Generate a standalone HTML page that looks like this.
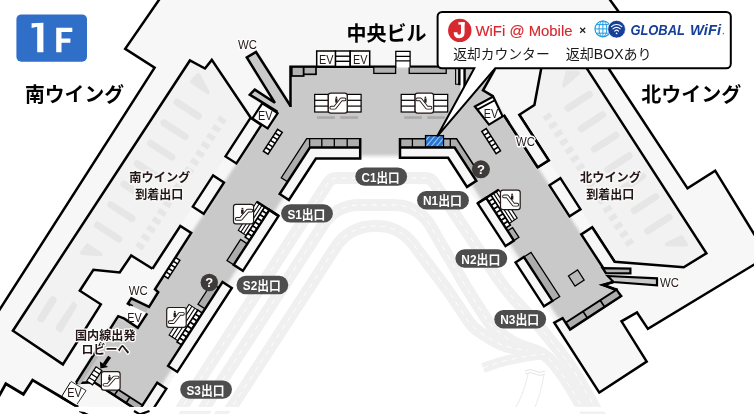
<!DOCTYPE html>
<html lang="ja"><head><meta charset="utf-8"><title>1F Floor Map</title>
<style>
html,body{margin:0;padding:0;background:#fff;}
body{width:754px;height:414px;overflow:hidden;font-family:"Liberation Sans",sans-serif;}
svg{display:block;}
svg text{opacity:0.999;}
.lbl{font-family:"Liberation Sans","Noto Sans CJK JP",sans-serif;}
</style></head><body>
<svg width="754" height="414" viewBox="0 0 754 414">
<rect width="754" height="414" fill="#fff"/>
<path d="M167.4,430 L328.1,182.6 A10,10 0 0 1 336.5,178 L425.4,178 A10,10 0 0 1 433.7,182.4 L496.7,276.7 A200,200 0 0 0 516.5,301.7 L533.7,320.3 A200,200 0 0 1 542.7,330.6 L561.1,353.3 A200,200 0 0 1 578.9,379.3 L587.3,393.9 A200,200 0 0 1 589.6,398.1 L607,430" fill="none" stroke="#f0f0f0" stroke-width="12"/>
<path d="M167.4,430 L328.1,182.6 A10,10 0 0 1 336.5,178 L425.4,178 A10,10 0 0 1 433.7,182.4 L496.7,276.7 A200,200 0 0 0 516.5,301.7 L533.7,320.3 A200,200 0 0 1 542.7,330.6 L561.1,353.3 A200,200 0 0 1 578.9,379.3 L587.3,393.9 A200,200 0 0 1 589.6,398.1 L607,430" fill="none" stroke="#fff" stroke-width="1" stroke-dasharray="5 5"/>
<path d="M190,430 L323.7,224.1 A42,42 0 0 1 358.9,205 L394.3,205 A42,42 0 0 1 430.6,225.9 L464.4,284.1 A300,300 0 0 0 471.5,295.7 L486.8,319.6 A40,40 0 0 0 495.9,329.5 L505.1,336.7 A60,60 0 0 0 522.9,346.3 L534.9,350.3 A40,40 0 0 1 553.3,363.2 L554.7,364.9 A200,200 0 0 1 570.5,387.6 L574.6,394.6 A200,200 0 0 1 576.3,397.5 L595,430" fill="none" stroke="#f0f0f0" stroke-width="12"/>
<path d="M190,430 L323.7,224.1 A42,42 0 0 1 358.9,205 L394.3,205 A42,42 0 0 1 430.6,225.9 L464.4,284.1 A300,300 0 0 0 471.5,295.7 L486.8,319.6 A40,40 0 0 0 495.9,329.5 L505.1,336.7 A60,60 0 0 0 522.9,346.3 L534.9,350.3 A40,40 0 0 1 553.3,363.2 L554.7,364.9 A200,200 0 0 1 570.5,387.6 L574.6,394.6 A200,200 0 0 1 576.3,397.5 L595,430" fill="none" stroke="#fff" stroke-width="1" stroke-dasharray="5 5"/>
<path d="M216.9,430 L336,246.5 A45,45 0 0 1 373.8,226 L377.1,226 A45,45 0 0 1 413,244 L442.6,283.3 A300,300 0 0 1 452.3,297 L468.1,320.7 A40,40 0 0 0 480,332.3 L491.3,339.5 A60,60 0 0 0 511.3,347.6 L540,353.5" fill="none" stroke="#f0f0f0" stroke-width="12"/>
<path d="M216.9,430 L336,246.5 A45,45 0 0 1 373.8,226 L377.1,226 A45,45 0 0 1 413,244 L442.6,283.3 A300,300 0 0 1 452.3,297 L468.1,320.7 A40,40 0 0 0 480,332.3 L491.3,339.5 A60,60 0 0 0 511.3,347.6 L540,353.5" fill="none" stroke="#fff" stroke-width="1" stroke-dasharray="5 5"/>
<path d="M483,368 Q512,357 545,354" fill="none" stroke="#f0f0f0" stroke-width="10"/>
<path d="M483,368 Q512,357 545,354" fill="none" stroke="#fff" stroke-width="1" stroke-dasharray="5 5"/>
<path d="M528,374 Q524,395 512,414 M544,374 Q541,395 532,414" fill="none" stroke="#ededed" stroke-width="1.2"/>
<path d="M525,371 q5,-3 10,0 t10,0 M525,374 q5,-3 10,0 t10,0" fill="none" stroke="#e4e4e4" stroke-width="1"/>
<polygon points="159,0 609.4,0 650,55 608.3,68 687.5,188.4 715.2,170.7 754,234 754,264.7 647.9,328.9 637,312.5 621.5,321.3 646.7,361.6 599.3,392.6 554.9,322.2 448.3,158 448,158 316,158.5 311.3,165.6 151.7,411.3 76,406 63.5,398.5 32.6,380.1 23.4,394.3 5.8,383.8 0,394.5 0,309 154.6,67.7 125.2,48.8" fill="#f7f7f7" />
<polygon points="189.9,60.5 205,68.5 211.8,59.9 250.5,117.8 152.5,268.7 131.2,255.5 119.7,272.5 93.4,269.7 79.8,290.7 100.8,304.3 62.9,364.4 13.2,330.9" fill="#f2f2f2" />
<polygon points="541.3,68 534.4,105 519.3,114.8 548.7,160.3 614.6,261.7 683.7,267.2 706.4,253.3 583.4,63.1" fill="#f2f2f2" />
<line x1="198.5" y1="116.2" x2="177.1" y2="102.3" stroke="#e6e6e6" stroke-width="7" stroke-linecap="round"/>
<line x1="185.2" y1="136.6" x2="163.8" y2="122.8" stroke="#e6e6e6" stroke-width="7" stroke-linecap="round"/>
<line x1="171.9" y1="157.1" x2="150.5" y2="143.2" stroke="#e6e6e6" stroke-width="7" stroke-linecap="round"/>
<line x1="158.6" y1="177.6" x2="137.2" y2="163.7" stroke="#e6e6e6" stroke-width="7" stroke-linecap="round"/>
<line x1="145.3" y1="198" x2="123.9" y2="184.1" stroke="#e6e6e6" stroke-width="7" stroke-linecap="round"/>
<line x1="132" y1="218.5" x2="110.7" y2="204.6" stroke="#e6e6e6" stroke-width="7" stroke-linecap="round"/>
<line x1="118.8" y1="239" x2="97.4" y2="225.1" stroke="#e6e6e6" stroke-width="7" stroke-linecap="round"/>
<polygon points="226.8,120.3 219.7,115.6 216.9,120 224,124.6" fill="#e6e6e6" />
<polygon points="221.4,128.7 214.3,124 211.4,128.4 218.5,133" fill="#e6e6e6" />
<polygon points="215.9,137 208.8,132.4 206,136.8 213.1,141.4" fill="#e6e6e6" />
<polygon points="210.5,145.4 203.4,140.8 200.5,145.2 207.7,149.8" fill="#e6e6e6" />
<polygon points="205,153.8 197.9,149.2 195.1,153.6 202.2,158.2" fill="#e6e6e6" />
<polygon points="199.6,162.2 192.5,157.6 189.6,161.9 196.8,166.6" fill="#e6e6e6" />
<polygon points="194.1,170.6 187,166 184.2,170.3 191.3,175" fill="#e6e6e6" />
<polygon points="188.7,179 181.6,174.4 178.7,178.7 185.9,183.3" fill="#e6e6e6" />
<polygon points="183.3,187.4 176.1,182.7 173.3,187.1 180.4,191.7" fill="#e6e6e6" />
<polygon points="177.8,195.8 170.7,191.1 167.8,195.5 175,200.1" fill="#e6e6e6" />
<polygon points="172.4,204.1 165.2,199.5 162.4,203.9 169.5,208.5" fill="#e6e6e6" />
<polygon points="166.9,212.5 159.8,207.9 157,212.3 164.1,216.9" fill="#e6e6e6" />
<polygon points="161.5,220.9 154.3,216.3 151.5,220.6 158.6,225.3" fill="#e6e6e6" />
<polygon points="156,229.3 148.9,224.7 146.1,229 153.2,233.7" fill="#e6e6e6" />
<polygon points="150.6,237.7 143.5,233.1 140.6,237.4 147.7,242.1" fill="#e6e6e6" />
<polygon points="145.1,246.1 138,241.4 135.2,245.8 142.3,250.4" fill="#e6e6e6" />
<line x1="568" y1="108.2" x2="589.4" y2="94.3" stroke="#e6e6e6" stroke-width="7" stroke-linecap="round"/>
<line x1="581.3" y1="128.7" x2="602.6" y2="114.8" stroke="#e6e6e6" stroke-width="7" stroke-linecap="round"/>
<line x1="594.5" y1="149.1" x2="615.9" y2="135.2" stroke="#e6e6e6" stroke-width="7" stroke-linecap="round"/>
<line x1="607.8" y1="169.6" x2="629.2" y2="155.7" stroke="#e6e6e6" stroke-width="7" stroke-linecap="round"/>
<line x1="621.1" y1="190" x2="642.5" y2="176.2" stroke="#e6e6e6" stroke-width="7" stroke-linecap="round"/>
<line x1="634.4" y1="210.5" x2="655.8" y2="196.6" stroke="#e6e6e6" stroke-width="7" stroke-linecap="round"/>
<line x1="647.7" y1="231" x2="669.1" y2="217.1" stroke="#e6e6e6" stroke-width="7" stroke-linecap="round"/>
<polygon points="542.6,116.9 549.7,112.3 552.6,116.6 545.5,121.3" fill="#e6e6e6" />
<polygon points="548.1,125.3 555.2,120.7 558,125 550.9,129.7" fill="#e6e6e6" />
<polygon points="553.5,133.7 560.6,129 563.5,133.4 556.3,138" fill="#e6e6e6" />
<polygon points="559,142.1 566.1,137.4 568.9,141.8 561.8,146.4" fill="#e6e6e6" />
<polygon points="564.4,150.5 571.5,145.8 574.4,150.2 567.2,154.8" fill="#e6e6e6" />
<polygon points="569.9,158.8 577,154.2 579.8,158.6 572.7,163.2" fill="#e6e6e6" />
<polygon points="575.3,167.2 582.4,162.6 585.3,167 578.1,171.6" fill="#e6e6e6" />
<polygon points="580.7,175.6 587.9,171 590.7,175.3 583.6,180" fill="#e6e6e6" />
<polygon points="586.2,184 593.3,179.4 596.2,183.7 589,188.4" fill="#e6e6e6" />
<polygon points="591.6,192.4 598.8,187.8 601.6,192.1 594.5,196.7" fill="#e6e6e6" />
<polygon points="597.1,200.8 604.2,196.1 607,200.5 599.9,205.1" fill="#e6e6e6" />
<polygon points="602.5,209.2 609.7,204.5 612.5,208.9 605.4,213.5" fill="#e6e6e6" />
<polygon points="608,217.5 615.1,212.9 617.9,217.3 610.8,221.9" fill="#e6e6e6" />
<polygon points="613.4,225.9 620.6,221.3 623.4,225.7 616.3,230.3" fill="#e6e6e6" />
<polygon points="618.9,234.3 626,229.7 628.8,234 621.7,238.7" fill="#e6e6e6" />
<polygon points="624.3,242.7 631.4,238.1 634.3,242.4 627.1,247.1" fill="#e6e6e6" />
<polygon points="192,81.6 198.3,75 207.8,92.4" fill="#e6e6e6" stroke="#e6e6e6" stroke-width="4" stroke-linejoin="round"/>
<polygon points="564,85.5 567.5,72.5 578,73" fill="#e6e6e6" stroke="#e6e6e6" stroke-width="4" stroke-linejoin="round"/>
<polygon points="82,253 87.5,245.3 100.5,254.3" fill="#e6e6e6" stroke="#e6e6e6" stroke-width="4" stroke-linejoin="round"/>
<polygon points="667,244.3 686,244.6 681.5,237.2" fill="#e6e6e6" stroke="#e6e6e6" stroke-width="4" stroke-linejoin="round"/>
<line x1="41.3" y1="318.6" x2="52.8" y2="300" stroke="#e6e6e6" stroke-width="7.6" stroke-linecap="round"/>
<polygon points="57,328 60.5,331 75.5,305.5 73.5,303.5" fill="#e6e6e6" stroke="#e6e6e6" stroke-width="3.5" stroke-linejoin="round"/>
<defs><filter id="bl" x="-5%" y="-5%" width="110%" height="110%"><feGaussianBlur stdDeviation="1.5"/></filter></defs>
<polygon points="290.5,66.7 466.3,66.7 466.3,68 495.5,68 483,90.4 492.8,95.9 475.4,105.7 493.9,99.8 603.2,268 606,273 607.6,276 613.5,281.8 602.6,284.8 617.7,289.8 621.1,295.9 570,329.4 562.6,318.1 558.1,318 471.5,184.6 476.6,181.4 454.2,147 452,147.5 400,147.5 400,155.5 360.2,155.5 360.2,147.5 309,147.5 310.8,146.2 279.7,194 283.9,196.7 146.7,408 101.8,387.2 94.2,382.3 76.2,382.5 116.9,316.1 125.4,320.4 132.1,306.3 127.9,303.5 131.3,298.4 149.1,306.8 157.6,291.7 155,289.2 261.3,125.1 267.7,129.3 276.9,112.6 277.5,111.9 249.8,94.7 254.8,89.6 274.9,102.8 246.8,57.5 256,52 290.5,106" fill="#c9c9c9" filter="url(#bl)"/>
<polygon points="246.8,57.5 256,52 290.5,106 286,112 274.9,102.8" fill="#c9c9c9" />
<polygon points="249.8,94.7 254.8,89.6 276,103.5 277.5,111.9" fill="#c9c9c9" />
<polyline points="159.6,-1 125.2,48.8 154.6,67.7 -1,310.6" fill="none" stroke="#000" stroke-width="2.5" stroke-linejoin="miter"/>
<polyline points="609.4,-1 650,55" fill="none" stroke="#000" stroke-width="2.5" stroke-linejoin="miter"/>
<polyline points="608.3,68 687.5,188.4 715.2,170.7 755,235.5" fill="none" stroke="#000" stroke-width="2.5" stroke-linejoin="miter"/>
<polyline points="755,264 647.9,328.9 637,312.5 621.5,321.3 646.7,361.6 599.3,392.6 554.3,322.6 562.6,318.1 570.1,329.6 621.1,295.9 616.1,290 603.6,285 613.5,281.8" fill="none" stroke="#000" stroke-width="2.5" stroke-linejoin="miter"/>
<polyline points="152.5,268.7 131.2,255.5 119.7,272.5 93.4,269.7 79.8,290.7 100.8,304.3 62.9,364.4 12.9,330.7 189.9,60.5 205,68.5 211.8,59.9 250.9,118" fill="none" stroke="#000" stroke-width="2.5" stroke-linejoin="miter"/>
<polyline points="-1,396.2 5.8,383.8 23.4,394.3 32.6,380.1 63.5,398.5 78,407" fill="none" stroke="#000" stroke-width="2.8" stroke-linejoin="miter"/>
<polyline points="541.3,68 534.4,105 519.3,114.8 548.7,160.3 537.7,167.2" fill="none" stroke="#000" stroke-width="2.5" stroke-linejoin="miter"/>
<polyline points="592.5,227.7 614.6,261.7 683.7,267.2 706.4,253.3 583.4,63.1" fill="none" stroke="#000" stroke-width="2.5" stroke-linejoin="miter"/>
<polyline points="503.7,114.9 537.7,167.2" fill="none" stroke="#000" stroke-width="2.5" stroke-linejoin="miter"/>
<polygon points="261.4,124.9 250.5,117.8 225.5,156.4 236.4,163.4" fill="#f7f7f7" stroke="#000" stroke-width="2.4" />
<polygon points="224,182.5 213.1,175.4 192.8,206.7 203.7,213.8" fill="#f7f7f7" stroke="#000" stroke-width="2.4" />
<polygon points="191.2,233 180.3,226 152.5,268.7 163.4,275.8" fill="#f7f7f7" />
<polygon points="127.9,303.5 131.3,298.4 149.1,306.8 145.9,312.6" fill="#b8b8b8" />
<polyline points="152.5,268.7 180.3,226 191.2,233 155,289.2 158.2,292.2 149.1,306.8 131.3,298.4 127.9,303.5 132.6,306.4" fill="none" stroke="#000" stroke-width="2.5" stroke-linejoin="miter"/>
<polygon points="549.5,185.3 560.4,178.2 580.5,209.3 569.6,216.3" fill="#f7f7f7" stroke="#000" stroke-width="2.4" />
<polygon points="581.3,234.4 592.2,227.3 614.6,261.7 603.2,268" fill="#f7f7f7" />
<polyline points="614.6,261.7 592.2,227.3 581.3,234.4 603.2,268 606,273" fill="none" stroke="#000" stroke-width="2.5" stroke-linejoin="miter"/>
<polygon points="509.2,123.2 519.3,114.9 548.7,160.3 537.7,167.2" fill="#f7f7f7" />
<polyline points="519.3,114.8 548.7,160.3 537.7,167.2 503.7,114.9" fill="none" stroke="#000" stroke-width="2.5" stroke-linejoin="miter"/>
<polygon points="602.6,268.2 630.4,268.6 630.4,273.4 606,273.2" fill="#b3b3b3" stroke="#000" stroke-width="2.2" />
<polygon points="607.6,276 657,278.3 657,285.3 613.5,282" fill="#c9c9c9" stroke="#000" stroke-width="2.2" />
<polyline points="613.5,282 602.6,284.8 617.7,289.8" fill="none" stroke="#000" stroke-width="2.4" stroke-linejoin="miter"/>
<polyline points="290.5,106 256,52 246.8,57.5 274.9,102.8 254.8,89.6 249.8,94.7 277.5,111.9" fill="none" stroke="#000" stroke-width="2.5" stroke-linejoin="miter"/>
<polyline points="290.5,107 290.5,66.7 396.6,66.7" fill="none" stroke="#000" stroke-width="2.5" stroke-linejoin="miter"/>
<polyline points="409.6,66.7 466,66.7" fill="none" stroke="#000" stroke-width="2.5" stroke-linejoin="miter"/>
<polygon points="460.5,68 463.4,68 463.4,89 460.5,94.5" fill="#fff" />
<polyline points="464.6,66 464.6,88.5" fill="none" stroke="#000" stroke-width="2.4" stroke-linejoin="miter"/>
<polyline points="459.3,66 459.3,85.2" fill="none" stroke="#000" stroke-width="2.4" stroke-linejoin="miter"/>
<polyline points="455.6,67 455.6,84.3 459.3,84.3" fill="none" stroke="#000" stroke-width="1.1" stroke-linejoin="miter"/>
<polyline points="495,69 483,90.4 493.2,96.3" fill="none" stroke="#000" stroke-width="2.5" stroke-linejoin="miter"/>
<rect x="373.8" y="67" width="21.8" height="6.4" fill="#b2b2b2" stroke="#000" stroke-width="1.3"/>
<rect x="409.2" y="67" width="37" height="6.4" fill="#b2b2b2" stroke="#000" stroke-width="1.3"/>
<rect x="291.8" y="67" width="11.9" height="9" fill="#b2b2b2" stroke="#000" stroke-width="1.7"/>
<rect x="303.7" y="67" width="12.3" height="7.3" fill="#b2b2b2" stroke="#000" stroke-width="1.7"/>
<rect x="335.4" y="51" width="14.8" height="15.5" fill="#fff" stroke="#000" stroke-width="1.4" rx="0"/>
<line x1="335.4" y1="56.2" x2="350.2" y2="56.2" stroke="#000" stroke-width="1.4"/>
<line x1="335.4" y1="61.3" x2="350.2" y2="61.3" stroke="#000" stroke-width="1.4"/>
<rect x="316.7" y="51" width="18.7" height="15.3" fill="#fff" stroke="#000" stroke-width="1.5" rx="0"/>
<rect x="350.2" y="51" width="19.5" height="15.3" fill="#fff" stroke="#000" stroke-width="1.5" rx="0"/>
<rect x="396" y="51.4" width="14.2" height="16" fill="#fff"/>
<path d="M395.8,67.5 V51.3 H410.1 V67.5 M395.8,56.3 H410.1 M395.8,60.8 H410.1" fill="none" stroke="#000" stroke-width="1.3"/>
<polygon points="360.2,138.7 360.2,147.5 309.9,147.5 287.6,181.8 281.3,177.7 306.7,138.7" fill="#adadad" />
<polygon points="360.2,147.5 360.2,158.5 315.9,158.5 288.9,200 279.7,194 309.9,147.5" fill="#f7f7f7" />
<polyline points="360.2,138.7 306.7,138.7 281.3,177.7 287.6,181.8" fill="none" stroke="#000" stroke-width="1.3" stroke-linejoin="miter"/>
<line x1="309.6" y1="138.7" x2="309.6" y2="147.5" stroke="#000" stroke-width="1.3"/>
<line x1="321.8" y1="138.7" x2="321.8" y2="147.5" stroke="#000" stroke-width="1.3"/>
<line x1="334.3" y1="138.7" x2="334.3" y2="147.5" stroke="#000" stroke-width="1.3"/>
<line x1="347.2" y1="138.7" x2="347.2" y2="147.5" stroke="#000" stroke-width="1.3"/>
<polyline points="360.2,138 360.2,158.5 315.9,158.5 288.9,200 279.7,194 309.9,147.5 360.2,147.5" fill="none" stroke="#000" stroke-width="2.5" stroke-linejoin="miter"/>
<polygon points="400,138.7 400,147.5 454.6,147.5 475.5,179.7 480.9,176.2 456.6,138.7" fill="#adadad" />
<polygon points="400,147.5 400,157.7 448.1,157.7 467,186.9 476.3,180.9 454.6,147.5" fill="#f7f7f7" />
<polyline points="400,138.7 456.6,138.7 480.9,176.2" fill="none" stroke="#000" stroke-width="1.6" stroke-linejoin="miter"/>
<line x1="412.4" y1="138.7" x2="412.4" y2="147.5" stroke="#000" stroke-width="1.3"/>
<line x1="450.3" y1="138.7" x2="450.3" y2="147.5" stroke="#000" stroke-width="1.3"/>
<polyline points="400,138 400,157.7 448.1,157.7 467,186.9 476.3,180.9 454.6,147.5 400,147.5" fill="none" stroke="#000" stroke-width="2.5" stroke-linejoin="miter"/>
<defs><pattern id="hatch" width="4" height="4" patternUnits="userSpaceOnUse" patternTransform="rotate(40)"><rect width="4" height="4" fill="#2a75d3"/><rect width="1" height="4" fill="#9ccbf5"/></pattern></defs>
<rect x="425.5" y="135.6" width="18" height="11.2" fill="url(#hatch)" stroke="#000" stroke-width="1.3"/>
<polygon points="264.8,206.9 256.8,201.7 238.3,230.3 246.2,235.4" fill="#fff" stroke="#000" stroke-width="1.1" />
<line x1="262.1" y1="205.2" x2="243.6" y2="233.7" stroke="#000" stroke-width="1.1"/>
<line x1="259.5" y1="203.5" x2="240.9" y2="232" stroke="#000" stroke-width="1.1"/>
<polygon points="269.4,209.9 264.8,206.9 245.2,237.1 249.8,240.1" fill="#fff" stroke="#000" stroke-width="1.7" />
<line x1="266.9" y1="213.7" x2="262.3" y2="210.7" stroke="#000" stroke-width="1.7"/>
<line x1="264.5" y1="217.5" x2="259.9" y2="214.5" stroke="#000" stroke-width="1.7"/>
<line x1="262" y1="221.2" x2="257.4" y2="218.2" stroke="#000" stroke-width="1.7"/>
<line x1="259.6" y1="225" x2="255" y2="222" stroke="#000" stroke-width="1.7"/>
<line x1="257.1" y1="228.8" x2="252.5" y2="225.8" stroke="#000" stroke-width="1.7"/>
<line x1="254.7" y1="232.6" x2="250.1" y2="229.6" stroke="#000" stroke-width="1.7"/>
<line x1="252.2" y1="236.3" x2="247.6" y2="233.3" stroke="#000" stroke-width="1.7"/>
<polygon points="247.3,243.9 240.6,239.5 227,260.5 233.7,264.8" fill="#adadad" stroke="#000" stroke-width="1.3" />
<polygon points="278.6,215.9 269.4,209.9 233.7,264.8 242.9,270.8" fill="#f7f7f7" stroke="#000" stroke-width="2.4" />
<polyline points="256.8,201.7 278.6,215.9" fill="none" stroke="#000" stroke-width="2.5" stroke-linejoin="miter"/>
<polygon points="197.8,310.1 189,304.4 169.1,335 177.9,340.7" fill="#fff" stroke="#000" stroke-width="1.1" />
<line x1="194.8" y1="308.2" x2="175" y2="338.8" stroke="#000" stroke-width="1.1"/>
<line x1="191.9" y1="306.3" x2="172" y2="336.9" stroke="#000" stroke-width="1.1"/>
<polygon points="202.4,313.1 197.8,310.1 177.1,341.9 181.7,344.9" fill="#fff" stroke="#000" stroke-width="1.7" />
<line x1="199.8" y1="317" x2="195.2" y2="314.1" stroke="#000" stroke-width="1.7"/>
<line x1="197.2" y1="321" x2="192.6" y2="318" stroke="#000" stroke-width="1.7"/>
<line x1="194.6" y1="325" x2="190" y2="322" stroke="#000" stroke-width="1.7"/>
<line x1="192" y1="329" x2="187.4" y2="326" stroke="#000" stroke-width="1.7"/>
<line x1="189.4" y1="333" x2="184.8" y2="330" stroke="#000" stroke-width="1.7"/>
<line x1="186.9" y1="337" x2="182.2" y2="334" stroke="#000" stroke-width="1.7"/>
<line x1="184.3" y1="341" x2="179.7" y2="338" stroke="#000" stroke-width="1.7"/>
<polygon points="218.7,287.9 211.6,283.3 198,304.2 205.1,308.9" fill="#adadad" stroke="#000" stroke-width="1.3" />
<polygon points="231.8,288 222.5,282 168.1,365.9 177.3,371.9" fill="#f7f7f7" stroke="#000" stroke-width="2.4" />
<polygon points="157.2,382.7 157.2,382.7 157.2,382.7 157.2,382.7" fill="#adadad" stroke="#000" stroke-width="1.3" />
<polygon points="166.4,388.7 157.2,382.7 138.7,411.2 147.9,417.2" fill="#f7f7f7" stroke="#000" stroke-width="2.4" />
<polygon points="142.5,405.3 105.6,381.4 101.8,387.2 138.7,411.2" fill="#adadad" stroke="#000" stroke-width="1.8" />
<line x1="129.9" y1="397.1" x2="126.1" y2="403" stroke="#000" stroke-width="1.7"/>
<line x1="118.2" y1="389.5" x2="114.3" y2="395.4" stroke="#000" stroke-width="1.7"/>
<polyline points="75.9,383 94.2,382.3 138.7,411.2" fill="none" stroke="#000" stroke-width="2.5" stroke-linejoin="miter"/>
<polygon points="101.8,370.6 96,366.8 86.7,381 92.6,384.8" fill="#fff" stroke="#000" stroke-width="1.2" />
<line x1="99.5" y1="374.1" x2="93.7" y2="370.3" stroke="#000" stroke-width="1.2"/>
<line x1="97.2" y1="377.7" x2="91.3" y2="373.9" stroke="#000" stroke-width="1.2"/>
<line x1="94.9" y1="381.3" x2="89" y2="377.5" stroke="#000" stroke-width="1.2"/>
<polygon points="97.9,357.3 94.6,355.1 76.6,382.8 80,385" fill="#b5b5b5" />
<polygon points="490.7,194.9 498.7,189.7 517.2,218.2 509.2,223.4" fill="#fff" stroke="#000" stroke-width="1.1" />
<line x1="493.4" y1="193.1" x2="511.9" y2="221.6" stroke="#000" stroke-width="1.1"/>
<line x1="496" y1="191.4" x2="514.5" y2="219.9" stroke="#000" stroke-width="1.1"/>
<polygon points="486.1,197.9 490.7,194.9 510.3,225.1 505.7,228" fill="#fff" stroke="#000" stroke-width="1.7" />
<line x1="488.5" y1="201.6" x2="493.2" y2="198.6" stroke="#000" stroke-width="1.7"/>
<line x1="491" y1="205.4" x2="495.6" y2="202.4" stroke="#000" stroke-width="1.7"/>
<line x1="493.4" y1="209.2" x2="498.1" y2="206.2" stroke="#000" stroke-width="1.7"/>
<line x1="495.9" y1="212.9" x2="500.5" y2="210" stroke="#000" stroke-width="1.7"/>
<line x1="498.3" y1="216.7" x2="503" y2="213.7" stroke="#000" stroke-width="1.7"/>
<line x1="500.8" y1="220.5" x2="505.4" y2="217.5" stroke="#000" stroke-width="1.7"/>
<line x1="503.2" y1="224.3" x2="507.9" y2="221.3" stroke="#000" stroke-width="1.7"/>
<polygon points="507.5,230.9 512.6,227.6 518.9,237.4 513.9,240.6" fill="#adadad" stroke="#000" stroke-width="1.3" />
<polygon points="477.7,203.3 486.1,197.9 513.9,240.6 505.5,246.1" fill="#f7f7f7" stroke="#000" stroke-width="2.4" />
<polyline points="498.7,189.7 477.7,203.3" fill="none" stroke="#000" stroke-width="2.5" stroke-linejoin="miter"/>
<polygon points="523.9,257 531,252.4 559.7,296.5 552.5,301.1" fill="#adadad" stroke="#000" stroke-width="1.3" />
<polygon points="515.5,262.4 523.9,257 552.4,300.9 544,306.3" fill="#f7f7f7" stroke="#000" stroke-width="2.4" />
<polygon points="565.9,322.5 616.6,289.6 620.8,296.1 570.1,329.1" fill="#adadad" stroke="#000" stroke-width="2" />
<line x1="583" y1="311.4" x2="587.3" y2="317.9" stroke="#000" stroke-width="1.7"/>
<line x1="600.2" y1="300.2" x2="604.5" y2="306.7" stroke="#000" stroke-width="1.7"/>
<polygon points="282.2,132.4 277.6,129.4 263.4,151.2 268,154.2" fill="#fff" stroke="#000" stroke-width="1.5" />
<line x1="279.8" y1="136" x2="275.2" y2="133" stroke="#000" stroke-width="1.5"/>
<line x1="277.5" y1="139.6" x2="272.8" y2="136.6" stroke="#000" stroke-width="1.5"/>
<line x1="275.1" y1="143.3" x2="270.5" y2="140.3" stroke="#000" stroke-width="1.5"/>
<line x1="272.7" y1="146.9" x2="268.1" y2="143.9" stroke="#000" stroke-width="1.5"/>
<line x1="270.4" y1="150.5" x2="265.8" y2="147.5" stroke="#000" stroke-width="1.5"/>
<polygon points="481.8,131.5 486.2,128.6 500.5,150.7 496.1,153.6" fill="#fff" stroke="#000" stroke-width="1.5" />
<line x1="484.1" y1="135.2" x2="488.6" y2="132.3" stroke="#000" stroke-width="1.5"/>
<line x1="486.5" y1="138.9" x2="491" y2="136" stroke="#000" stroke-width="1.5"/>
<line x1="488.9" y1="142.5" x2="493.4" y2="139.7" stroke="#000" stroke-width="1.5"/>
<line x1="491.3" y1="146.2" x2="495.7" y2="143.3" stroke="#000" stroke-width="1.5"/>
<line x1="493.7" y1="149.9" x2="498.1" y2="147" stroke="#000" stroke-width="1.5"/>
<polygon points="179.9,260.3 175.8,257.6 164,275.7 168.1,278.4" fill="#fff" stroke="#000" stroke-width="1.5" />
<line x1="177.5" y1="263.9" x2="173.4" y2="261.3" stroke="#000" stroke-width="1.5"/>
<line x1="175.2" y1="267.5" x2="171.1" y2="264.9" stroke="#000" stroke-width="1.5"/>
<line x1="172.8" y1="271.2" x2="168.7" y2="268.5" stroke="#000" stroke-width="1.5"/>
<line x1="170.5" y1="274.8" x2="166.4" y2="272.1" stroke="#000" stroke-width="1.5"/>
<polygon points="568.4,275.9 577.6,269.9 584.2,280.1 575,286.1" fill="#b9b9b9" stroke="#000" stroke-width="1.2" />
<polygon points="277.6,113.2 262.3,103.3 252.4,118.5 267.7,128.4" fill="#fff" stroke="#000" stroke-width="2.2" />
<text class="lbl" x="258" y="120.45" font-size="13.4" fill="#231815" textLength="14.5" lengthAdjust="spacingAndGlyphs">EV</text>
<polygon points="474.9,106.5 493.2,96.6 502.6,116.4 489,124.6" fill="#fff" stroke="#000" stroke-width="2.2" />
<polyline points="477.2,109.6 494.9,100.3" fill="none" stroke="#000" stroke-width="1.8" stroke-linejoin="miter"/>
<text class="lbl" x="483.8" y="117.6" font-size="13.4" fill="#231815" textLength="14.5" lengthAdjust="spacingAndGlyphs">EV</text>
<polygon points="130.5,305.6 147.2,313.4 137.8,327.8 124.3,318.6" fill="#fff" />
<polyline points="147.2,313.4 137.8,327.8 124.3,318.6 118.2,316.2 76,382.6" fill="none" stroke="#000" stroke-width="2.5" stroke-linejoin="miter"/>
<text class="lbl" x="127.2" y="321.6" font-size="13.4" fill="#231815" textLength="14.5" lengthAdjust="spacingAndGlyphs">EV</text>
<polygon points="70.9,381.3 86.1,390.6 76.3,405.2 62.2,395.4" fill="#fff" stroke="#fff" stroke-width="0.8" />
<polyline points="61.5,397.3 78,407.2" fill="none" stroke="#000" stroke-width="2.5" stroke-linejoin="miter"/>
<polyline points="61.8,396.2 70.6,382" fill="none" stroke="#000" stroke-width="1" stroke-linejoin="miter"/>
<polyline points="70.9,381.3 86.1,390.6 77,404.2" fill="none" stroke="#000" stroke-width="0.8" stroke-linejoin="miter"/>
<text class="lbl" x="67.3" y="397.4" font-size="13.4" fill="#231815" textLength="14.5" lengthAdjust="spacingAndGlyphs">EV</text>
<text class="lbl" x="319.1" y="63.5" font-size="13.4" fill="#231815" textLength="14.5" lengthAdjust="spacingAndGlyphs">EV</text>
<text class="lbl" x="353" y="63.5" font-size="13.4" fill="#231815" textLength="14.5" lengthAdjust="spacingAndGlyphs">EV</text>
<text class="lbl" x="238" y="48.7" font-size="13.4" fill="#231815" stroke="#fff" stroke-width="2.5" stroke-linejoin="round" paint-order="stroke" textLength="19" lengthAdjust="spacingAndGlyphs">WC</text>
<text class="lbl" x="516" y="145.6" font-size="13.4" fill="#231815" stroke="#fff" stroke-width="3" stroke-linejoin="round" paint-order="stroke" textLength="19" lengthAdjust="spacingAndGlyphs">WC</text>
<text class="lbl" x="128.7" y="294.6" font-size="13.4" fill="#231815" stroke="#fff" stroke-width="2.5" stroke-linejoin="round" paint-order="stroke" textLength="19" lengthAdjust="spacingAndGlyphs">WC</text>
<text class="lbl" x="660" y="287.3" font-size="13.4" fill="#231815" stroke="#fff" stroke-width="2.5" stroke-linejoin="round" paint-order="stroke" textLength="19" lengthAdjust="spacingAndGlyphs">WC</text>
<rect x="314.7" y="94.4" width="13.6" height="17.6" fill="#fff" stroke="#000" stroke-width="1.2" rx="0"/>
<line x1="314.7" y1="100.3" x2="328.3" y2="100.3" stroke="#000" stroke-width="1.2"/>
<line x1="314.7" y1="106.1" x2="328.3" y2="106.1" stroke="#000" stroke-width="1.2"/>
<rect x="347.2" y="94.4" width="13.9" height="17.6" fill="#fff" stroke="#000" stroke-width="1.2" rx="0"/>
<line x1="347.2" y1="100.3" x2="361.1" y2="100.3" stroke="#000" stroke-width="1.2"/>
<line x1="347.2" y1="106.1" x2="361.1" y2="106.1" stroke="#000" stroke-width="1.2"/>
<g transform="translate(328.3,93.1)">
<rect x="0" y="0" width="18.9" height="20" rx="2.4" fill="#fff" stroke="#231815" stroke-width="1.2"/>
<g>
<g transform="scale(1,1)">
<polyline points="3.0,14.6 6.6,14.6 13.0,6.3 16.2,6.3" fill="none" stroke="#231815" stroke-width="3.7" stroke-linecap="round" stroke-linejoin="round"/>
<polyline points="3.0,14.6 6.6,14.6 13.0,6.3 16.2,6.3" fill="none" stroke="#fff" stroke-width="1.9" stroke-linecap="round" stroke-linejoin="round"/>
<circle cx="8.1" cy="4.2" r="0.85" fill="#231815"/><rect x="6.9" y="5.3" width="2.3" height="4.2" fill="#231815"/>
</g></g></g>
<rect x="401.2" y="94.4" width="13.9" height="17.6" fill="#fff" stroke="#000" stroke-width="1.2" rx="0"/>
<line x1="401.2" y1="100.3" x2="415.1" y2="100.3" stroke="#000" stroke-width="1.2"/>
<line x1="401.2" y1="106.1" x2="415.1" y2="106.1" stroke="#000" stroke-width="1.2"/>
<rect x="433.5" y="94.4" width="14.2" height="17.6" fill="#fff" stroke="#000" stroke-width="1.2" rx="0"/>
<line x1="433.5" y1="100.3" x2="447.7" y2="100.3" stroke="#000" stroke-width="1.2"/>
<line x1="433.5" y1="106.1" x2="447.7" y2="106.1" stroke="#000" stroke-width="1.2"/>
<g transform="translate(415.1,93.1)">
<rect x="0" y="0" width="18.4" height="20" rx="2.4" fill="#fff" stroke="#231815" stroke-width="1.2"/>
<g transform="translate(18.4,0) scale(-1,1)">
<g transform="scale(1,1)">
<polyline points="3.0,14.6 6.6,14.6 13.0,6.3 16.2,6.3" fill="none" stroke="#231815" stroke-width="3.7" stroke-linecap="round" stroke-linejoin="round"/>
<polyline points="3.0,14.6 6.6,14.6 13.0,6.3 16.2,6.3" fill="none" stroke="#fff" stroke-width="1.9" stroke-linecap="round" stroke-linejoin="round"/>
<circle cx="8.1" cy="4.2" r="0.85" fill="#231815"/><rect x="6.9" y="5.3" width="2.3" height="4.2" fill="#231815"/>
</g></g></g>
<rect x="317" y="116.3" width="17.8" height="2.5" fill="#a9a9a9"/>
<rect x="340.2" y="116.3" width="17.8" height="2.5" fill="#a9a9a9"/>
<rect x="404.2" y="116.3" width="17.6" height="2.5" fill="#a9a9a9"/>
<rect x="427.3" y="116.3" width="17.5" height="2.5" fill="#a9a9a9"/>
<g transform="translate(233.5,204.3)">
<rect x="0" y="0" width="20.1" height="19.6" rx="2.4" fill="#fff" stroke="#231815" stroke-width="1.2"/>
<g>
<g transform="scale(1.1,1)">
<polyline points="3.0,14.6 6.6,14.6 13.0,6.3 16.2,6.3" fill="none" stroke="#231815" stroke-width="3.7" stroke-linecap="round" stroke-linejoin="round"/>
<polyline points="3.0,14.6 6.6,14.6 13.0,6.3 16.2,6.3" fill="none" stroke="#fff" stroke-width="1.9" stroke-linecap="round" stroke-linejoin="round"/>
<circle cx="8.1" cy="4.2" r="0.85" fill="#231815"/><rect x="6.9" y="5.3" width="2.3" height="4.2" fill="#231815"/>
</g></g></g>
<g transform="translate(166.7,307.5)">
<rect x="0" y="0" width="19.5" height="19.8" rx="2.4" fill="#fff" stroke="#231815" stroke-width="1.2"/>
<g>
<g transform="scale(1,1)">
<polyline points="3.0,14.6 6.6,14.6 13.0,6.3 16.2,6.3" fill="none" stroke="#231815" stroke-width="3.7" stroke-linecap="round" stroke-linejoin="round"/>
<polyline points="3.0,14.6 6.6,14.6 13.0,6.3 16.2,6.3" fill="none" stroke="#fff" stroke-width="1.9" stroke-linecap="round" stroke-linejoin="round"/>
<circle cx="8.1" cy="4.2" r="0.85" fill="#231815"/><rect x="6.9" y="5.3" width="2.3" height="4.2" fill="#231815"/>
</g></g></g>
<g transform="translate(101.4,371.7)">
<rect x="0" y="0" width="18.7" height="18.4" rx="2.4" fill="#fff" stroke="#231815" stroke-width="1.2"/>
<g>
<g transform="scale(1,0.9)">
<polyline points="3.0,14.6 6.6,14.6 13.0,6.3 16.2,6.3" fill="none" stroke="#231815" stroke-width="3.7" stroke-linecap="round" stroke-linejoin="round"/>
<polyline points="3.0,14.6 6.6,14.6 13.0,6.3 16.2,6.3" fill="none" stroke="#fff" stroke-width="1.9" stroke-linecap="round" stroke-linejoin="round"/>
<circle cx="8.1" cy="4.2" r="0.85" fill="#231815"/><rect x="6.9" y="5.3" width="2.3" height="4.2" fill="#231815"/>
</g></g></g>
<g transform="translate(500.5,190.1)">
<rect x="0" y="0" width="19.7" height="19.6" rx="2.4" fill="#fff" stroke="#231815" stroke-width="1.2"/>
<g transform="translate(19.7,0) scale(-1,1)">
<g transform="scale(1,1)">
<polyline points="3.0,14.6 6.6,14.6 13.0,6.3 16.2,6.3" fill="none" stroke="#231815" stroke-width="3.7" stroke-linecap="round" stroke-linejoin="round"/>
<polyline points="3.0,14.6 6.6,14.6 13.0,6.3 16.2,6.3" fill="none" stroke="#fff" stroke-width="1.9" stroke-linecap="round" stroke-linejoin="round"/>
<circle cx="8.1" cy="4.2" r="0.85" fill="#231815"/><rect x="6.9" y="5.3" width="2.3" height="4.2" fill="#231815"/>
</g></g></g>
<path d="M109.6,356.8 L104.2,364.6" stroke="#000" stroke-width="3.5" fill="none"/><polygon points="100.4,368.6 99.9,361.6 108.2,367" fill="#000"/>
<circle cx="209.3" cy="282.5" r="8.7" fill="#3e3a39"/>
<text class="lbl" x="209.3" y="287" font-size="13" font-weight="bold" fill="#fff" text-anchor="middle">?</text>
<circle cx="480.9" cy="169.3" r="9" fill="#3e3a39"/>
<text class="lbl" x="480.9" y="173.8" font-size="13" font-weight="bold" fill="#fff" text-anchor="middle">?</text>
<rect x="355.3" y="167.4" width="51.8" height="18.4" rx="9.2" fill="#4d4d4d"/>
<text class="lbl" x="361.6" y="181.7" font-size="13" font-weight="bold" fill="#fff" textLength="38" lengthAdjust="spacingAndGlyphs">C1出口</text>
<rect x="281.1" y="204.2" width="51.8" height="18.4" rx="9.2" fill="#4d4d4d"/>
<text class="lbl" x="287.4" y="218.5" font-size="13" font-weight="bold" fill="#fff" textLength="38" lengthAdjust="spacingAndGlyphs">S1出口</text>
<rect x="417.1" y="191.1" width="51.8" height="18.4" rx="9.2" fill="#4d4d4d"/>
<text class="lbl" x="423" y="205.4" font-size="13" font-weight="bold" fill="#fff" textLength="39" lengthAdjust="spacingAndGlyphs">N1出口</text>
<rect x="236.5" y="275.8" width="51.8" height="18.4" rx="9.2" fill="#4d4d4d"/>
<text class="lbl" x="242.8" y="290.1" font-size="13" font-weight="bold" fill="#fff" textLength="38" lengthAdjust="spacingAndGlyphs">S2出口</text>
<rect x="455.4" y="249.3" width="51.8" height="18.4" rx="9.2" fill="#4d4d4d"/>
<text class="lbl" x="461.3" y="263.6" font-size="13" font-weight="bold" fill="#fff" textLength="39" lengthAdjust="spacingAndGlyphs">N2出口</text>
<rect x="494.3" y="310" width="51.8" height="18.4" rx="9.2" fill="#4d4d4d"/>
<text class="lbl" x="500.2" y="324.3" font-size="13" font-weight="bold" fill="#fff" textLength="39" lengthAdjust="spacingAndGlyphs">N3出口</text>
<rect x="180.2" y="380.4" width="51.8" height="18.4" rx="9.2" fill="#4d4d4d"/>
<text class="lbl" x="186.5" y="394.7" font-size="13" font-weight="bold" fill="#fff" textLength="38" lengthAdjust="spacingAndGlyphs">S3出口</text>
<text class="lbl" x="129.3" y="182.4" font-size="12.3" font-weight="bold" fill="#231815" stroke="#f6f6f6" stroke-width="3.5" stroke-linejoin="round" paint-order="stroke" textLength="61" lengthAdjust="spacingAndGlyphs">南ウイング</text>
<text class="lbl" x="135.2" y="198.8" font-size="12.3" font-weight="bold" fill="#231815" stroke="#f6f6f6" stroke-width="3.5" stroke-linejoin="round" paint-order="stroke" textLength="48" lengthAdjust="spacingAndGlyphs">到着出口</text>
<text class="lbl" x="580" y="182.4" font-size="12.3" font-weight="bold" fill="#231815" stroke="#f6f6f6" stroke-width="3.5" stroke-linejoin="round" paint-order="stroke" textLength="61" lengthAdjust="spacingAndGlyphs">北ウイング</text>
<text class="lbl" x="586.2" y="198.8" font-size="12.3" font-weight="bold" fill="#231815" stroke="#f6f6f6" stroke-width="3.5" stroke-linejoin="round" paint-order="stroke" textLength="48" lengthAdjust="spacingAndGlyphs">到着出口</text>
<text class="lbl" x="75" y="340.4" font-size="12.3" font-weight="bold" fill="#231815" stroke="#fff" stroke-width="2.5" stroke-linejoin="round" paint-order="stroke" textLength="60.5" lengthAdjust="spacingAndGlyphs">国内線出発</text>
<text class="lbl" x="81.5" y="353.9" font-size="12.3" font-weight="bold" fill="#231815" stroke="#fff" stroke-width="2.5" stroke-linejoin="round" paint-order="stroke" textLength="48" lengthAdjust="spacingAndGlyphs">ロビーへ</text>
<rect x="0" y="406.9" width="754" height="8" fill="#fff"/>
<path d="M180.5,410.8 h31 l-2,3.2 h-31z M216,410.8 h14.5 l-2,3.2 h-14.5z M579,411.4 h25.5 l1.6,2.6 h-25.5z" fill="#f1f1f1"/>
<path d="M79,411.2 q6,0.3 10,3 l-6,0 q-2,-1.8 -4,-2.2z" fill="#000"/><path d="M134,411 l6,3.4 l9.5,-3.4" stroke="#000" stroke-width="2.2" fill="none"/>
<text class="lbl" x="25" y="101.5" font-size="20" font-weight="bold" fill="#000" textLength="99" lengthAdjust="spacingAndGlyphs">南ウイング</text>
<text class="lbl" x="346.5" y="40.7" font-size="20" font-weight="bold" fill="#000" textLength="80" lengthAdjust="spacingAndGlyphs">中央ビル</text>
<text class="lbl" x="641.3" y="102.3" font-size="20" font-weight="bold" fill="#000" textLength="100" lengthAdjust="spacingAndGlyphs">北ウイング</text>
<rect x="16.4" y="14.4" width="70.6" height="47.3" rx="5" fill="#2f6fc8"/>
<path d="M31.6,23.3 L43.4,22.8 V52.2 H37.2 V26.8 L31.6,28z" fill="#fff"/>
<path d="M56.2,27.8 H72.3 V32 H61.5 V38.5 H70.4 V42.7 H61.5 V52.2 H56.2z" fill="#fff"/>
<path d="M442.1,11.9 H726.3 a4.5,4.5 0 0 1 4.5,4.5 V63.8 a4.5,4.5 0 0 1 -4.5,4.5 H495.2 L437.2,136.3 L474.3,68.3 H442.1 a4.5,4.5 0 0 1 -4.5,-4.5 V16.4 a4.5,4.5 0 0 1 4.5,-4.5z" fill="#fff" stroke="#000" stroke-width="2" stroke-linejoin="miter"/>
<circle cx="459.8" cy="30.4" r="11.7" fill="#d7282f"/>
<path d="M462.8,22.2 V32.6 Q462.8,36.5 459.2,36.5 Q455.5,36.5 455.5,32.2" fill="none" stroke="#fff" stroke-width="3.6" stroke-linecap="butt"/><rect x="458.4" y="22.2" width="6.2" height="2.4" fill="#fff"/>
<text x="475.5" y="36.2" font-family="Liberation Sans, sans-serif" font-size="15" fill="#d7282f" stroke="#d7282f" stroke-width="0.15" textLength="97" lengthAdjust="spacingAndGlyphs">WiFi @ Mobile</text>
<path d="M580.2,27.8 L585.2,32.8 M585.2,27.8 L580.2,32.8" stroke="#222" stroke-width="1.25" fill="none"/>
<circle cx="602.9" cy="28.9" r="7.9" fill="#fff" stroke="#239ce2" stroke-width="1.2"/>
<g fill="none" stroke="#239ce2" stroke-width="1"><ellipse cx="602.9" cy="28.9" rx="3.9" ry="7.9"/><line x1="595" y1="28.9" x2="610.8" y2="28.9"/><line x1="602.9" y1="21" x2="602.9" y2="36.8"/><path d="M596.3,24.6 h13.2 M596.3,33.2 h13.2"/></g>
<circle cx="616.6" cy="29.2" r="8.9" fill="#163f97" stroke="#fff" stroke-width="0.8"/>
<g fill="none" stroke="#fff" stroke-width="1.05" stroke-linecap="round"><path d="M611.4,26.6 a7.4,7.4 0 0 1 10.4,0"/><path d="M613,28.9 a5,5 0 0 1 7.2,0"/><path d="M614.7,31.1 a2.7,2.7 0 0 1 3.8,0"/></g><circle cx="616.6" cy="33.3" r="0.9" fill="#fff"/>
<text x="630.4" y="35.2" font-family="Liberation Sans, sans-serif" font-size="15" font-weight="bold" font-style="italic" fill="#163f97" textLength="54.5" lengthAdjust="spacingAndGlyphs">GLOBAL</text>
<text x="690" y="35.2" font-family="Liberation Sans, sans-serif" font-size="15" font-weight="bold" font-style="italic" fill="#163f97" textLength="31" lengthAdjust="spacingAndGlyphs">WiFi</text>
<circle cx="723.4" cy="33.6" r="0.8" fill="#777"/>
<text class="lbl" x="453.2" y="58.7" font-size="13.8" fill="#1a1a1a" textLength="96.5" lengthAdjust="spacingAndGlyphs">返却カウンター</text>
<text class="lbl" x="565.7" y="58.7" font-size="13.8" fill="#1a1a1a" textLength="86" lengthAdjust="spacingAndGlyphs">返却BOXあり</text>
</svg>
</body></html>
